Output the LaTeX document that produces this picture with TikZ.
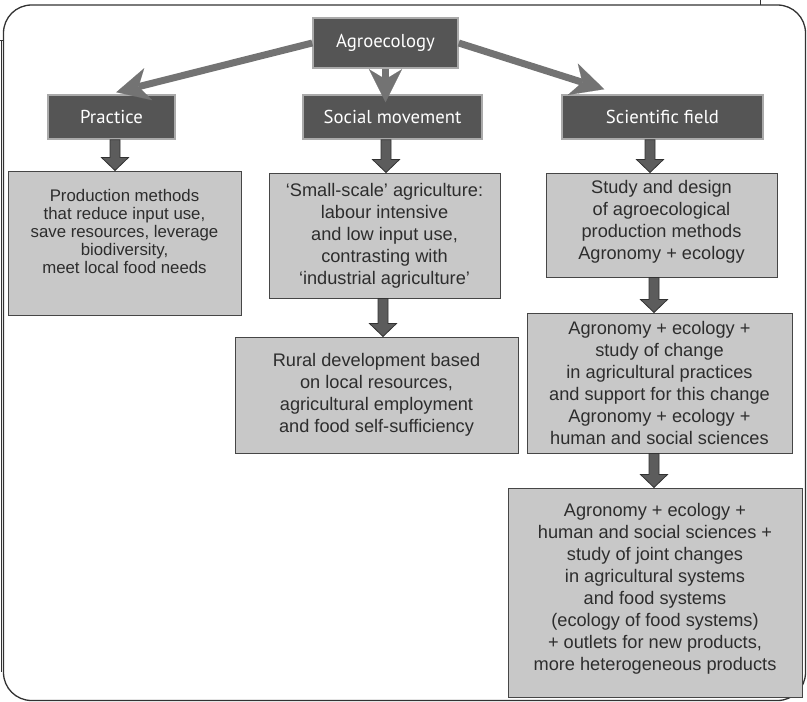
\documentclass[tikz,border=0pt]{standalone}
\usepackage{fontspec}
\setmainfont{Liberation Sans}
\newfontfamily\headfont{PT Sans}
\usetikzlibrary{arrows.meta,calc}
\definecolor{darkfill}{RGB}{85,85,85}
\definecolor{darkborder}{RGB}{170,170,170}
\definecolor{lightfill}{RGB}{200,200,200}
\definecolor{lightborder}{RGB}{70,70,70}
\definecolor{textgray}{RGB}{45,45,45}
\definecolor{diaggray}{RGB}{115,115,115}
\definecolor{blockfill}{RGB}{92,92,92}
\definecolor{blockline}{RGB}{50,50,50}
\definecolor{framegray}{RGB}{50,50,50}
\tikzset{
  darkbox/.style={draw=darkborder, line width=1.5pt, fill=darkfill, text=white,
    font=\headfont\fontsize{18.7}{22}\selectfont, inner sep=0pt},
  lightbox/.style={draw=lightborder, line width=1pt, fill=lightfill, text=textgray,
    align=center, inner sep=0pt},
  bodyfont/.style={font=\fontsize{18.2}{22}\selectfont},
  diagarrow/.style={draw=diaggray, line width=7pt,
    -{Stealth[length=33pt,width=33pt,inset=10pt,line width=0.1pt]}},
  blockarr/.style={fill=blockfill, draw=blockline, line width=0.8pt, line join=miter},
}
\newcommand\lifttext[1]{\rule[-#1]{0pt}{#1}}
\newcommand\blockarrow[3]{%
  \filldraw[blockarr] let \p1=(#2.south), \p2=(#3.north) in
    (#1pt-5pt,\y1) -- (#1pt+5pt,\y1) -- (#1pt+5pt,\y2+13pt) -- (#1pt+13.5pt,\y2+13pt)
    -- (#1pt,\y2) -- (#1pt-13.5pt,\y2+13pt) -- (#1pt-5pt,\y2+13pt) -- cycle;}
\begin{document}
\begin{tikzpicture}[x=1pt,y=-1pt]
\useasboundingbox (0,0) rectangle (807,702);
% frame
\draw[framegray, line width=1.3pt, rounded corners=28pt] (3.5,5) rectangle (805.5,700.5);
\draw[framegray, line width=1pt] (0,40) -- (3.5,40);
\draw[framegray, line width=1pt] (1.2,40) -- (1.2,672);
\draw[framegray, line width=1pt] (760,0) -- (760,5);
% dark boxes
\node[darkbox, minimum width=145pt, minimum height=50pt] (agro) at (385.5,43) {Agroecology};
\node[darkbox, minimum width=127pt, minimum height=44pt] (practice) at (111.5,117) {Practice};
\node[darkbox, minimum width=179pt, minimum height=44pt] (social) at (392.5,117) {Social movement};
\node[darkbox, minimum width=201pt, minimum height=44pt] (science) at (662.5,117) {Scientific field};
% light boxes
\node[lightbox, font=\fontsize{16.8}{18}\selectfont, minimum width=233pt, minimum height=144pt] (pbox) at (124.5,243)
  {Production methods\\that reduce input use,\\save resources, leverage\\biodiversity,\\meet local food needs\lifttext{24pt}};
\node[lightbox, bodyfont, minimum width=231pt, minimum height=125pt] (sbox) at (384.5,235.5)
  {‘Small-scale’ agriculture:\\labour intensive\\and low input use,\\contrasting with\\‘industrial agriculture’};
\node[lightbox, bodyfont, minimum width=283pt, minimum height=116pt] (rbox) at (376.5,395)
  {Rural development based\\on local resources,\\agricultural employment\\and food self-sufficiency\lifttext{4pt}};
\node[lightbox, bodyfont, minimum width=231pt, minimum height=104pt] (fbox1) at (661.5,225)
  {Study and design\\of agroecological\\production methods\\Agronomy + ecology\lifttext{10pt}};
\node[lightbox, bodyfont, minimum width=265pt, minimum height=140pt] (fbox2) at (659.5,383)
  {Agronomy + ecology +\\study of change\\in agricultural practices\\and support for this change\\Agronomy + ecology +\\human and social sciences};
\node[lightbox, bodyfont, minimum width=294pt, minimum height=209pt] (fbox3) at (655,592.5)
  {Agronomy + ecology +\\human and social sciences +\\study of joint changes\\in agricultural systems\\and food systems\\(ecology of food systems)\\+ outlets for new products,\\more heterogeneous products\lifttext{12pt}};
% block arrows
\blockarrow{115}{practice}{pbox}
\blockarrow{386}{social}{sbox}
\blockarrow{650}{science}{fbox1}
\blockarrow{383}{sbox}{rbox}
\blockarrow{654}{fbox1}{fbox2}
\blockarrow{654}{fbox2}{fbox3}
% diagonal arrows
\draw[diagarrow] (agro.west) -- ([xshift=69pt,yshift=2pt]practice.north west);
\draw[diagarrow] (agro.south) -- ([yshift=-8pt]agro.south |- social.north);
\draw[diagarrow] (agro.east) -- ([xshift=43pt,yshift=5pt]science.north west);
\end{tikzpicture}
\end{document}
